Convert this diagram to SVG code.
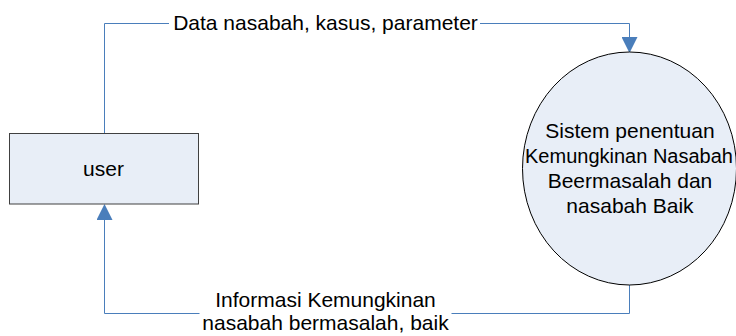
<svg xmlns="http://www.w3.org/2000/svg" width="736" height="336" viewBox="0 0 736 336">
<style>
text{font-family:"Liberation Sans",Arial,sans-serif;font-size:21px;fill:#000;text-anchor:middle}
.flow{fill:none;stroke:#4A7EBB;stroke-width:1}
.node{fill:#E8EEF7}
.lbl{fill:#fff}
</style>
<defs>
<marker id="arr" markerUnits="userSpaceOnUse" markerWidth="16" markerHeight="16" refX="0" refY="7.5" orient="auto" viewBox="0 0 15 15">
<path d="M0,0 L15,7.5 L0,15 z" fill="#4A7EBB"/>
</marker>
</defs>
<rect width="736" height="336" fill="#fff"/>
<g id="connectors">
<path class="flow" d="M104.5,133 V23.5 H629.5 V37" marker-end="url(#arr)"/>
<path class="flow" d="M629.5,285 V313.5 H104.5 V220" marker-end="url(#arr)"/>
<rect class="lbl" x="169" y="10" width="311" height="26"/>
<text x="325.5" y="30">Data nasabah, kasus, parameter</text>
<rect class="lbl" x="199.5" y="290" width="252" height="46"/>
<text x="325.5" y="307">Informasi Kemungkinan</text>
<text x="325.5" y="330">nasabah bermasalah, baik</text>
</g>
<g id="user">
<rect class="node" x="9.5" y="133.5" width="189" height="70.5" stroke="#404040" stroke-width="1"/>
<text x="103.5" y="176">user</text>
</g>
<g id="sistem">
<ellipse class="node" cx="629.5" cy="168.5" rx="107" ry="116.5" stroke="#000" stroke-width="1"/>
<text x="630" y="138">Sistem penentuan</text>
<text x="629" y="163" style="font-size:20px">Kemungkinan Nasabah</text>
<text x="630" y="188">Beermasalah dan</text>
<text x="630" y="213">nasabah Baik</text>
</g>
</svg>
